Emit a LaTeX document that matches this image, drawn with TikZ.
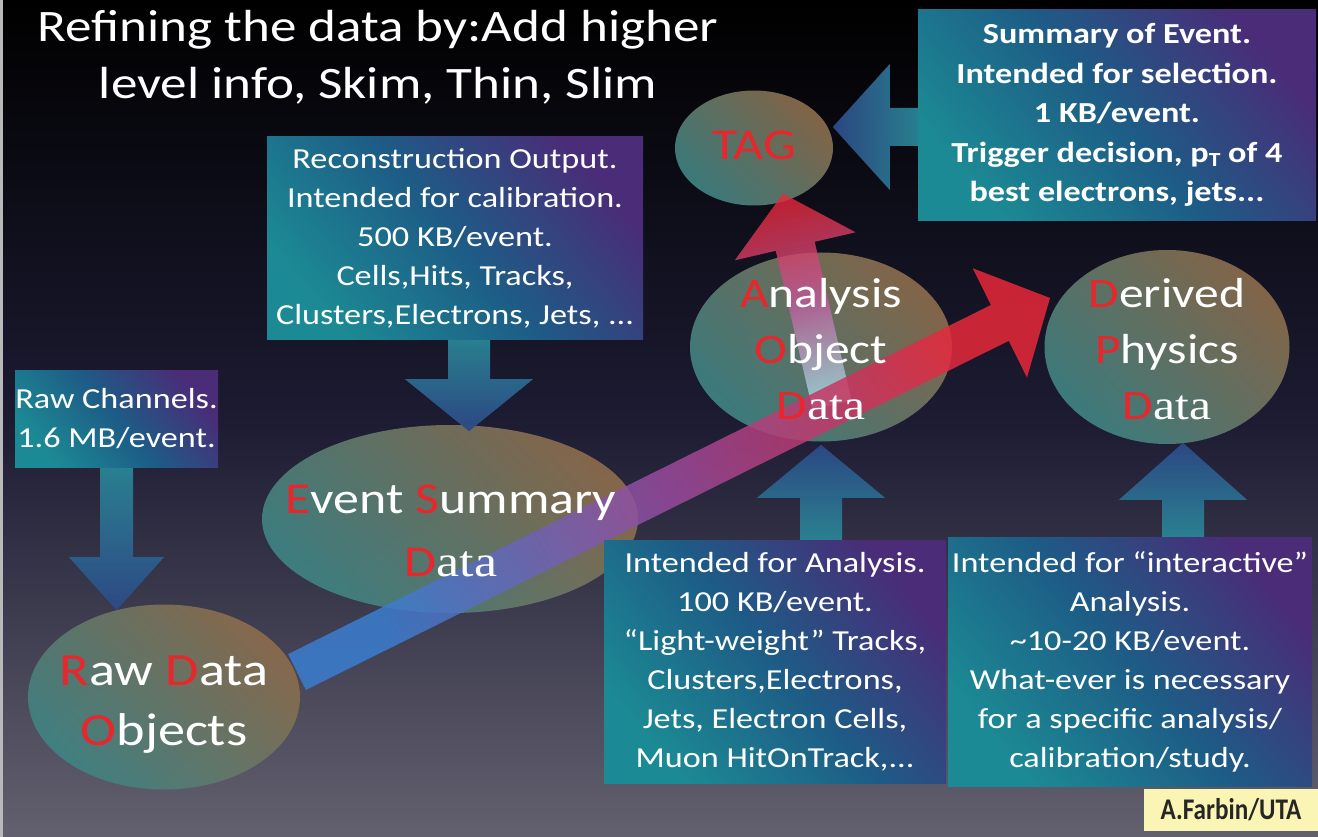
\documentclass[tikz,border=0pt]{standalone}
\usepackage{fontspec}
\setmainfont[FakeStretch=1.18]{Carlito}
\newfontfamily\serifdata[FakeStretch=1.18]{Liberation Serif}
\newfontfamily\creditfont[FakeStretch=0.84]{Carlito}
\usetikzlibrary{shapes.geometric,calc}

\definecolor{initred}{HTML}{E8262B}
\definecolor{boxteal}{HTML}{1C8A94}
\definecolor{boxblue}{HTML}{1D5C86}
\definecolor{boxpurple}{HTML}{4A2C78}
\definecolor{elltop}{HTML}{8C6C4C}
\definecolor{ellbot}{HTML}{3F8383}
\definecolor{feedteal}{HTML}{2A8595}
\definecolor{feedblue}{HTML}{2D4A88}
\definecolor{flowblue}{HTML}{3A7ED0}
\definecolor{flowmid}{HTML}{9A4A9C}
\definecolor{flowred}{HTML}{E8283A}
\definecolor{flowpale}{HTML}{A8D8E0}
\definecolor{flowpink}{HTML}{C0589A}
\definecolor{bgmid}{HTML}{1C1B32}
\definecolor{bgbottom}{HTML}{63616F}
\definecolor{notepaper}{HTML}{FAF5B4}

\pgfdeclarelayer{bg}
\pgfdeclarelayer{blobs}
\pgfdeclarelayer{flow}
\pgfsetlayers{bg,blobs,flow,main}

\newcommand{\ini}[1]{\textcolor{initred}{#1}}
\newcommand{\fsz}[2]{\fontsize{#1}{#2}\selectfont}
% block arrow: style, tail, tip, shaft half width, head half width, head length
\newcommand{\fatarrow}[6]{%
  \coordinate (fa-base) at ($(#3)!#6!(#2)$);
  \path[#1] ($(#2)!#4!90:(#3)$) -- ($(fa-base)!#4!90:(#3)$)
    -- ($(fa-base)!#5!90:(#3)$) -- (#3)
    -- ($(fa-base)!#5!-90:(#3)$) -- ($(fa-base)!#4!-90:(#3)$)
    -- ($(#2)!#4!-90:(#3)$) -- cycle;}

\begin{document}
\begin{tikzpicture}[x=1pt,y=-1pt,
  infobox/.style={rectangle, inner sep=0pt, align=center, text=white,
    bottom color=boxteal, top color=boxpurple, middle color=boxblue,
    shading angle=-50, font=\fsz{29}{39}},
  datablob/.style={ellipse, inner sep=0pt,
    bottom color=ellbot, top color=elltop, shading angle=-45, fill opacity=0.92},
  blobtext/.style={align=center, text=white, inner sep=0pt},
  feeddown/.style={bottom color=feedblue, top color=feedteal, fill opacity=0.95},
  feedup/.style={bottom color=feedteal, top color=feedblue, fill opacity=0.95},
  feedleft/.style={left color=feedblue, right color=feedteal, fill opacity=0.95},
  mainflow/.style={bottom color=flowblue, top color=flowred, middle color=flowmid,
    shading angle=-63, fill opacity=0.85},
  tagflow/.style={bottom color=flowpale, top color=flowred, middle color=flowpink,
    shading angle=13, fill opacity=0.8},
]
\useasboundingbox (0,0) rectangle (1318,837);
\begin{pgfonlayer}{bg}
  \shade[top color=black, bottom color=bgbottom, middle color=bgmid] (0,0) rectangle (1318,837);
  \fill[gray!55!white] (0,0) rectangle (3,837);
\end{pgfonlayer}

% title
\node[align=center, text=white, font=\fsz{45}{57}] (title) at (378,57)
  {Refining the data by:Add higher\\level info, Skim, Thin, Slim};

% info boxes
\node[infobox, minimum width=203, minimum height=97] (raw) at (116.5,418.5)
  {Raw Channels.\\1.6 MB/event.};
\node[infobox, minimum width=376, minimum height=202] (reco) at (455,238)
  {Reconstruction Output.\\Intended for calibration.\\500 KB/event.\\Cells,Hits, Tracks,\\Clusters,Electrons, Jets, ...};
\node[infobox, minimum width=398, minimum height=211, font=\bfseries\fsz{29}{39.5}] (summary) at (1117,115)
  {Summary of Event.\\Intended for selection.\\1 KB/event.\\Trigger decision, p\raisebox{-0.3ex}{\fsz{20}{20}T} of 4\\best electrons, jets...};
\node[infobox, minimum width=342, minimum height=243] (ana) at (775,661.5)
  {Intended for Analysis.\\100 KB/event.\\“Light-weight” Tracks,\\Clusters,Electrons,\\Jets, Electron Cells,\\Muon HitOnTrack,...};
\node[infobox, minimum width=364, minimum height=249] (dpdnote) at (1130,661.5)
  {Intended for “interactive”\\Analysis.\\\textasciitilde10-20 KB/event.\\What-ever is necessary\\for a specific analysis/\\calibration/study.};
\node[fill=notepaper, minimum width=174, minimum height=42, inner sep=0pt,
  font=\creditfont\bfseries\fsz{30}{30}, text=black!85] (credit) at (1231,810) {A.Farbin/UTA};

% data formats
\begin{pgfonlayer}{blobs}
  \node[datablob, minimum width=272, minimum height=185] (rdo) at (164,697) {};
  \node[datablob, minimum width=376, minimum height=188] (esd) at (450,519) {};
  \node[datablob, minimum width=262, minimum height=189] (aod) at (821,347) {};
  \node[datablob, minimum width=158, minimum height=115] (tag) at (754,148) {};
  \node[datablob, minimum width=245, minimum height=194] (dpd) at (1167,347) {};
\end{pgfonlayer}
\node[blobtext, font=\fsz{46}{60}] (rdo-text) at ($(rdo)+(0,8)$) {\ini{R}aw \ini{D}ata\\\ini{O}bjects};
\node[blobtext, font=\fsz{44}{63}] (esd-text) at ($(esd)+(1,12)$) {\ini{E}vent \ini{S}ummary\\\ini{D}{\serifdata ata}};
\node[blobtext, font=\fsz{42}{56}] (aod-text) at ($(aod)+(0,2)$) {\ini{A}nalysis\\\ini{O}bject\\\ini{D}{\serifdata ata}};
\node[blobtext, font=\fsz{44}{50}, text=initred] (tag-text) at ($(tag)+(0,-3)$) {TAG};
\node[blobtext, font=\fsz{42}{56}] (dpd-text) at ($(dpd)+(0,2)$) {\ini{D}erived\\\ini{P}hysics\\\ini{D}{\serifdata ata}};

% flows
\coordinate (raw-out) at (raw.south);
\coordinate (rdo-in) at ($(raw.south)+(0,143)$);
\coordinate (reco-out) at ($(reco.south)+(14,0)$);
\coordinate (esd-in) at ($(reco.south)+(14,92)$);
\coordinate (summary-out) at ($(summary.west)+(0,12)$);
\coordinate (tag-in) at ($(summary.west)+(-85,12)$);
\coordinate (ana-out) at ($(ana.north)+(46,0)$);
\coordinate (aod-in) at ($(ana.north)+(46,-95)$);
\coordinate (dpdnote-out) at ($(dpdnote.north)+(53,0)$);
\coordinate (dpd-in) at ($(dpdnote.north)+(53,-94)$);
\coordinate (chain-start) at ($(rdo)+(133,-25)$);
\coordinate (chain-end) at ($(dpd)+(-117,-49)$);
\coordinate (aod-up) at ($(aod)+(11,58)$);
\coordinate (tag-up) at ($(tag.south)+(29,-12)$);
\begin{pgfonlayer}{flow}
  \fatarrow{feeddown}{raw-out}{rdo-in}{16.5pt}{47.5pt}{53pt}
  \fatarrow{feeddown}{reco-out}{esd-in}{21pt}{64pt}{52pt}
  \fatarrow{feedleft}{summary-out}{tag-in}{19pt}{63pt}{57pt}
  \fatarrow{feedup}{ana-out}{aod-in}{21pt}{64pt}{53pt}
  \fatarrow{feedup}{dpdnote-out}{dpd-in}{21pt}{64pt}{57pt}
  \fatarrow{tagflow}{aod-up}{tag-up}{20pt}{62pt}{54pt}
  \fatarrow{mainflow}{chain-start}{chain-end}{20pt}{61pt}{56pt}
\end{pgfonlayer}
\end{tikzpicture}
\end{document}
